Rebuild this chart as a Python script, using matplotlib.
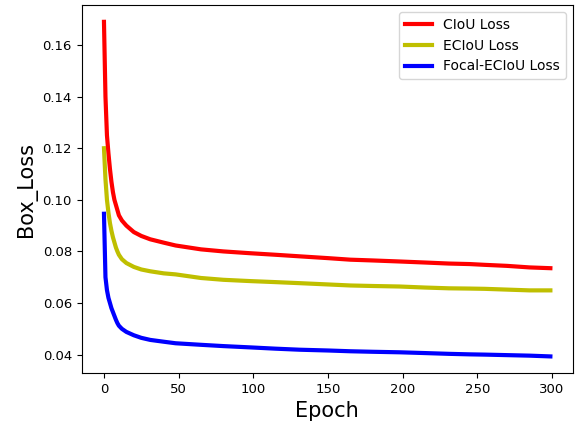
import matplotlib
matplotlib.use("Agg")
import matplotlib.pyplot as plt

# values at selected epochs
epochs = [0, 1, 2, 3, 4, 5, 6, 7, 8, 9, 10, 12, 15, 20, 25, 31, 40, 48, 65,
          80, 98, 115, 131, 150, 165, 180, 198, 215, 231, 245, 255, 270, 285, 299]

ciou = [0.169, 0.140, 0.125, 0.118, 0.112, 0.107, 0.103, 0.100, 0.098, 0.096,
        0.094, 0.092, 0.0900, 0.0875, 0.0860, 0.0847, 0.0834, 0.0823, 0.0808,
        0.0800, 0.0793, 0.0787, 0.0781, 0.0774, 0.0768, 0.0765, 0.0761, 0.0757,
        0.0753, 0.0751, 0.0748, 0.0744, 0.0738, 0.0735]

eciou = [0.120, 0.108, 0.100, 0.095, 0.091, 0.088, 0.0855, 0.0835, 0.0815,
         0.0800, 0.0787, 0.0770, 0.0755, 0.0740, 0.0730, 0.0723, 0.0715,
         0.0711, 0.0697, 0.0690, 0.0685, 0.0681, 0.0677, 0.0672, 0.0668,
         0.0666, 0.0664, 0.0660, 0.0657, 0.0656, 0.0655, 0.0652, 0.0649, 0.0649]

focal_eciou = [0.0946, 0.0700, 0.0650, 0.0620, 0.0600, 0.0580, 0.0565,
               0.0550, 0.0535, 0.0522, 0.0512, 0.0500, 0.0488, 0.0475, 0.0465,
               0.0457, 0.0450, 0.0444, 0.0438, 0.0433, 0.0428, 0.0423, 0.0419,
               0.0416, 0.0413, 0.0411, 0.0409, 0.0406, 0.0403, 0.0401, 0.0400,
               0.0398, 0.0396, 0.0393]

fig, ax = plt.subplots(figsize=(5.75, 4.25), dpi=100)
fig.subplots_adjust(left=0.142, right=0.996, top=0.988, bottom=0.122)

ax.plot(epochs, ciou, color="r", lw=3, label="CIoU Loss")
ax.plot(epochs, eciou, color="y", lw=3, label="ECIoU Loss")
ax.plot(epochs, focal_eciou, color="b", lw=3, label="Focal-ECIoU Loss")

ax.set_xticks([0, 50, 100, 150, 200, 250, 300])
ax.set_yticks([0.04, 0.06, 0.08, 0.10, 0.12, 0.14, 0.16])
ax.tick_params(labelsize=9.5)
ax.set_xlabel("Epoch", fontsize=15)
ax.set_ylabel("Box_Loss", fontsize=15)
ax.legend(loc="upper right", fontsize=10)

fig.savefig("out.png", dpi=100)
